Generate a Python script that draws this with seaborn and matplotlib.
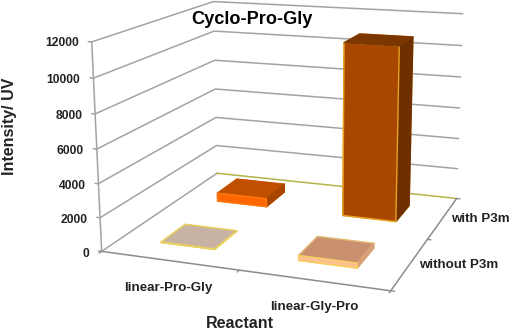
import numpy as np
import matplotlib
matplotlib.use('Agg')
import matplotlib.pyplot as plt
from mpl_toolkits.mplot3d import proj3d
import seaborn as sns

# values
reactants = ['linear-Pro-Gly', 'linear-Gly-Pro']
conditions = ['without P3m', 'with P3m']
without_p3m = [30, 290]
with_p3m = [530, 10800]
z_ticks = [0, 2000, 4000, 6000, 8000, 10000, 12000]

sns.set_theme(style='white')
plt.rcParams['font.family'] = ['Liberation Sans', 'DejaVu Sans']

# Excel style camera: fit the projection on the corners of the chart box
corners = np.array([[0, 0, 0], [2, 0, 0], [2, 2, 0], [0, 2, 0],
                    [0, 0, 12000], [0, 2, 12000], [2, 2, 12000]], float)
pixels = np.array([[102, 252], [390, 291], [457, 198], [217, 173],
                   [92, 41], [213, 2], [463, 14]], float)
A = []
b = []
for (X, Y, Z), (u, v) in zip(corners, pixels):
    A.append([X, Y, Z, 1, 0, 0, 0, 0, -u * X, -u * Y, -u * Z])
    b.append(u)
    A.append([0, 0, 0, 0, X, Y, Z, 1, -v * X, -v * Y, -v * Z])
    b.append(v)
p = np.linalg.lstsq(np.array(A), np.array(b), rcond=None)[0]
P = np.append(p, 1).reshape(3, 4)
M = np.array([P[0], P[1], [-0.3, 0.5, -1 / 12000, 0], P[2]])

fig = plt.figure(figsize=(5.12, 3.31), dpi=100)
ax = fig.add_axes([0, 0, 1, 1], projection='3d')
ax.set_axis_off()
ax.computed_zorder = False
ax.set_proj_type('ortho')  # otherwise lines get masked outside -1..1
ax.get_proj = lambda: M
ax.apply_aspect = lambda position=None: None

grey = '#a3a3a3'
dark = '#8c8c8c'

# walls
for z in z_ticks[1:]:
    ax.plot([0, 0, 2], [0, 2, 2], [z, z, z], color=grey, lw=1.1, zorder=1)
    ax.plot([-0.025, 0], [0, 0], [z, z], color=grey, lw=1.1, zorder=1)
ax.plot([-0.025, 0], [0, 0], [0, 0], color=grey, lw=1.1, zorder=1)
ax.plot([0, 0], [0, 2], [0, 0], color=grey, lw=1.1, zorder=1)
ax.plot([0, 2], [2, 2], [0, 0], color='#b4b44a', lw=1.1, zorder=1)
ax.plot([0, 0], [0, 0], [0, 12000], color=grey, lw=1.1, zorder=1)

# floor
ax.plot([0, 2, 2], [0, 0, 2], [0, 0, 0], color=dark, lw=1.1, zorder=1)
for x in [0, 1, 2]:
    ax.plot([x, x], [0, -0.035], [0, 0], color=dark, lw=1, zorder=1)
for y in [0, 1, 2]:
    ax.plot([2, 2.025], [y, y], [0, 0], color=dark, lw=1, zorder=1)

# faces: bottom, top, front, back, left, right
bar_colors = {
    (0, 0): ['#c8b2a4'] * 6,
    (1, 0): ['#ffc090', '#c99070', '#ffc090', '#ffc090', '#ffc090', '#d8a078'],
    (0, 1): ['#ff6600', '#c05000', '#ff6600', '#ff6600', '#ff6600', '#a84400'],
    (1, 1): ['#a84800', '#7c3600', '#a84800', '#a84800', '#a84800', '#6e3000'],
}
edge_colors = {
    (0, 0): ['#e8d060'] * 6,
    (1, 0): ['#f5d060', '#e0b878', '#f5d060', '#f5d060', '#f5d060', '#d8a078'],
    (0, 1): ['#ff7a10', '#c05000', '#ff7a10', '#ff7a10', '#ff7a10', '#a84400'],
    (1, 1): ['#e8a020', '#7c3600', '#e8a020', '#e8a020', '#e8a020', '#6e3000'],
}
for j, values in enumerate([without_p3m, with_p3m]):
    for i, val in enumerate(values):
        ax.bar3d(i + 0.3, j + 0.3, 0, 0.4, 0.4, val, color=bar_colors[(i, j)],
                 edgecolor=edge_colors[(i, j)], linewidth=1, shade=False, zorder=5 - 2 * j)


def label(x, y, z, s, ha, size):
    u, v, _ = proj3d.proj_transform(x, y, z, M)
    ax.text2D(u, v, s, transform=ax.transData, ha=ha, va='center', fontsize=size,
              fontweight='bold', color='#222222', zorder=8)


# tick labels
for z in z_ticks:
    label(-0.052, -0.077, z, str(z), 'right', 8.7)
for name, x, y in zip(reactants, [0.70, 1.64], [-0.43, -0.41]):
    label(x, y, 0, name, 'center', 9.6)
for j, name in enumerate(conditions):
    label(2.06, j + 0.5, 0, name, 'left', 9.6)

fig.text(252 / 512, 1 - 19 / 331, 'Cyclo-Pro-Gly', ha='center', va='center',
         fontsize=13.1, fontweight='bold', color='black')
fig.text(240 / 512, 1 - 323 / 331, 'Reactant', ha='center', va='center',
         fontsize=11.5, fontweight='bold', color='#222222')
fig.text(9.5 / 512, 1 - 126 / 331, 'Intensity/ UV', rotation=90, ha='center', va='center',
         fontsize=11.5, fontweight='bold', color='#222222')

# the fitted camera works in picture pixels
ax.viewLim.intervalx = (0, 512)
ax.viewLim.intervaly = (331, 0)

fig.savefig('out.png', dpi=100)
